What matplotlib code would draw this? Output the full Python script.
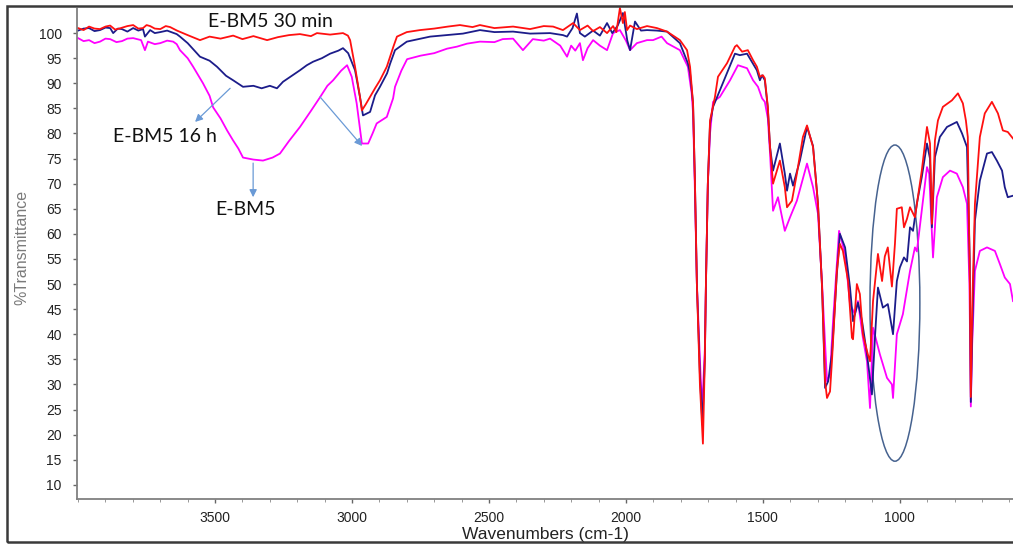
import matplotlib
matplotlib.use("Agg")
import matplotlib.pyplot as plt
import numpy as np
from matplotlib.patches import Ellipse, Rectangle

# FTIR spectra, (wavenumber cm-1, %T) pairs
ebm5_30min = [
    (4000, 101.0), (3980, 100.6), (3960, 101.3), (3940, 100.9), (3920, 100.8),
    (3900, 101.3), (3883, 101.5), (3865, 100.7), (3850, 100.9), (3820, 101.4),
    (3799, 101.6), (3780, 100.9), (3763, 101.0), (3750, 101.6), (3737, 101.4),
    (3720, 100.9), (3700, 100.8), (3680, 101.4), (3664, 101.2),
    (3639, 100.5), (3600, 99.6), (3555, 98.6), (3520, 99.3), (3480, 98.9),
    (3434, 99.5), (3400, 98.8), (3360, 99.4), (3310, 98.6), (3270, 99.2),
    (3230, 99.6), (3190, 99.8), (3150, 99.4), (3128, 100.0), (3080, 99.7),
    (3033, 100.0), (3015, 99.5), (3007, 98.6), (2989, 93.3), (2971, 87.3),
    (2964, 84.6), (2950, 85.8), (2934, 87.3), (2916, 89.0), (2898, 90.6),
    (2873, 93.3), (2849, 97.3), (2836, 99.3), (2800, 100.2), (2752, 100.6),
    (2700, 100.9), (2650, 101.3), (2606, 101.6), (2560, 101.2), (2533, 101.6),
    (2480, 101.0), (2412, 101.3), (2350, 100.8), (2300, 101.4), (2266, 101.3),
    (2230, 100.6), (2193, 102.0), (2168, 100.6), (2140, 101.5), (2120, 100.4),
    (2095, 101.2), (2069, 100.0), (2047, 101.4), (2035, 100.2), (2022, 105.0),
    (2011, 102.0), (2004, 104.2), (1996, 100.6), (1985, 101.5), (1960, 100.8),
    (1923, 101.4), (1887, 101.0), (1850, 100.3), (1803, 98.6), (1777, 96.6),
    (1766, 93.3), (1755, 86.0), (1748, 70.0), (1741, 50.0), (1730, 30.0),
    (1719, 18.2), (1712, 35.0), (1708, 50.0), (1701, 70.0), (1693, 82.6),
    (1675, 87.3), (1664, 91.3), (1631, 94.0), (1602, 97.3), (1595, 97.6),
    (1576, 96.3), (1555, 96.6), (1536, 94.6), (1522, 93.3), (1511, 91.3),
    (1500, 91.6), (1493, 91.0), (1482, 85.3), (1474, 77.3), (1463, 70.0),
    (1438, 74.6), (1420, 69.3), (1412, 65.3), (1394, 66.6), (1376, 72.0),
    (1354, 79.3), (1339, 81.6), (1317, 77.3), (1299, 66.0), (1284, 49.3),
    (1273, 30.6), (1266, 27.3), (1255, 28.6), (1248, 34.6), (1230, 52.6),
    (1219, 58.0), (1208, 56.6), (1189, 50.6), (1175, 39.3), (1171, 39.0),
    (1157, 50.0), (1146, 48.0), (1135, 40.0), (1117, 36.0), (1109, 34.6),
    (1098, 46.6), (1080, 56.0), (1065, 50.6), (1055, 55.5), (1044, 57.3),
    (1029, 49.5), (1018, 58.0), (1011, 65.0), (993, 65.3), (985, 61.3),
    (974, 63.0), (963, 65.3), (945, 63.3), (920, 72.6), (901, 81.3),
    (890, 78.0), (883, 62.0), (872, 78.6), (861, 82.6), (843, 85.3),
    (810, 86.6), (788, 88.0), (770, 86.0), (759, 82.6), (752, 79.3),
    (745, 52.6), (741, 27.5), (736, 45.0), (726, 66.0), (708, 79.3),
    (690, 84.0), (664, 86.3), (642, 84.0), (624, 80.6), (606, 80.3),
    (587, 79.0),
]

ebm5_16h = [
    (4000, 100.5), (3980, 100.9), (3960, 101.0), (3940, 100.4), (3920, 100.6),
    (3900, 101.1), (3883, 101.0), (3872, 100.0), (3855, 100.9),
    (3840, 100.8), (3820, 100.3), (3799, 101.0), (3780, 100.5), (3763, 100.8),
    (3756, 99.3), (3737, 100.6), (3720, 100.0),
    (3700, 100.2), (3675, 100.5), (3640, 99.8), (3628, 99.3), (3600, 98.0),
    (3555, 95.3), (3520, 94.5), (3493, 93.3), (3460, 91.5), (3434, 90.6),
    (3398, 89.3), (3360, 89.5), (3330, 89.0), (3300, 89.5), (3274, 89.0),
    (3252, 90.3), (3220, 91.5), (3190, 92.6), (3165, 93.6), (3142, 94.3),
    (3110, 95.0), (3080, 95.9), (3050, 96.5), (3033, 97.0), (3014, 96.0),
    (2989, 92.6), (2971, 87.3), (2960, 83.6), (2934, 84.3), (2916, 87.6),
    (2898, 89.3), (2872, 92.0), (2861, 93.9), (2843, 96.6), (2800, 98.3),
    (2715, 99.3), (2653, 99.6), (2595, 99.9), (2533, 100.6), (2480, 100.2),
    (2412, 100.3), (2350, 99.9), (2277, 100.0), (2230, 99.6), (2215, 99.3),
    (2195, 101.0), (2179, 103.9), (2168, 100.0), (2150, 99.3), (2120, 100.5),
    (2095, 99.5), (2069, 102.0), (2050, 100.0), (2030, 101.5), (2011, 104.0),
    (1995, 98.5), (1985, 96.6), (1967, 102.3), (1945, 100.5), (1923, 100.6),
    (1887, 100.5), (1850, 100.3), (1803, 98.0), (1774, 94.0), (1766, 92.0),
    (1755, 86.0), (1748, 70.0), (1741, 50.0), (1730, 32.0), (1721, 22.0),
    (1712, 35.0), (1708, 50.0), (1701, 70.0), (1693, 82.0), (1682, 85.3),
    (1657, 88.6), (1631, 92.0), (1602, 95.9), (1584, 95.6), (1558, 95.9),
    (1522, 92.6), (1511, 90.6), (1503, 91.6), (1493, 90.6), (1482, 85.0),
    (1474, 77.3), (1463, 72.6), (1438, 78.0), (1420, 72.0), (1412, 68.6),
    (1401, 72.0), (1390, 69.6), (1365, 74.6), (1339, 81.3), (1317, 77.5),
    (1299, 66.0), (1284, 49.3), (1273, 29.3), (1262, 30.6), (1248, 36.0),
    (1230, 52.0), (1219, 60.0), (1200, 57.3), (1182, 49.3), (1171, 42.6),
    (1153, 46.3), (1138, 42.6), (1120, 36.0), (1102, 28.0), (1091, 39.3),
    (1080, 49.3), (1062, 45.3), (1044, 46.0), (1025, 40.0), (1011, 50.6),
    (1000, 53.3), (985, 55.3), (974, 54.5), (963, 61.3), (952, 60.6),
    (938, 66.0), (920, 71.3), (901, 78.0), (890, 75.0), (883, 61.3),
    (872, 75.3), (854, 79.3), (828, 81.3), (792, 82.3), (773, 80.0),
    (755, 77.3), (745, 55.0), (741, 26.5), (736, 40.0), (726, 62.6),
    (708, 70.6), (682, 76.0), (664, 76.3), (646, 74.6), (627, 72.6),
    (617, 69.3), (606, 67.3), (587, 67.6),
]

ebm5 = [
    (4000, 99.0), (3980, 98.4), (3960, 98.6), (3940, 98.0), (3920, 98.3),
    (3900, 98.9), (3883, 98.8), (3860, 98.2), (3840, 98.4), (3820, 98.9),
    (3799, 99.0), (3770, 98.6), (3756, 96.6), (3745, 98.3), (3720, 97.8),
    (3700, 98.0), (3675, 98.5),
    (3653, 98.3), (3640, 97.8), (3628, 96.6), (3600, 95.0), (3580, 93.3),
    (3544, 90.0), (3520, 87.5), (3507, 85.2), (3480, 83.0), (3456, 80.6),
    (3434, 78.6), (3415, 77.0), (3398, 75.2), (3360, 74.8), (3325, 74.6),
    (3290, 75.2), (3263, 76.0), (3230, 78.5), (3190, 81.3), (3150, 84.5),
    (3117, 87.2), (3090, 89.5), (3069, 90.6), (3040, 92.5), (3018, 93.6),
    (3001, 91.3), (2983, 86.0), (2964, 78.0), (2941, 78.0), (2925, 80.0),
    (2910, 82.0), (2873, 83.3), (2850, 87.0), (2843, 89.3), (2820, 92.5),
    (2799, 94.8), (2750, 95.5), (2700, 96.0), (2653, 96.9), (2617, 97.3),
    (2580, 97.9), (2533, 98.3), (2480, 98.2), (2450, 98.8), (2412, 98.9),
    (2376, 96.6), (2340, 98.8), (2300, 98.5), (2277, 98.9), (2240, 97.5),
    (2215, 95.3), (2200, 97.5), (2185, 96.5), (2168, 98.0), (2157, 94.6),
    (2140, 97.0), (2120, 98.6), (2095, 97.5), (2069, 96.6), (2047, 100.0),
    (2022, 100.6), (2000, 98.5), (1985, 96.6), (1960, 98.0), (1923, 98.6),
    (1901, 98.6), (1870, 99.3), (1850, 98.0), (1803, 96.6), (1774, 93.3),
    (1760, 88.0), (1755, 84.0), (1748, 68.0), (1741, 50.0), (1730, 35.0),
    (1722, 25.0), (1712, 37.0), (1708, 50.0), (1701, 70.0), (1693, 80.0),
    (1682, 86.3), (1657, 87.3), (1620, 90.6), (1591, 93.6), (1558, 93.0),
    (1536, 90.6), (1518, 89.3), (1503, 87.0), (1493, 86.3), (1482, 83.0),
    (1474, 76.0), (1463, 64.6), (1445, 67.3), (1420, 60.6), (1401, 63.3),
    (1376, 66.6), (1339, 74.0), (1317, 69.3), (1299, 64.0), (1284, 50.0),
    (1266, 30.6), (1255, 32.0), (1244, 42.6), (1222, 60.6), (1200, 56.0),
    (1182, 46.0), (1164, 44.0), (1153, 46.6), (1135, 39.3), (1120, 34.6),
    (1109, 25.3), (1098, 41.3), (1073, 36.0), (1047, 31.3), (1029, 30.0),
    (1025, 27.3), (1011, 40.0), (989, 44.0), (963, 52.6), (945, 57.3),
    (938, 56.5), (920, 64.6), (901, 73.3), (893, 72.0), (879, 55.3),
    (865, 67.3), (843, 71.3), (817, 72.6), (792, 72.0), (770, 69.3),
    (755, 66.0), (746, 50.0), (741, 25.6), (736, 38.0), (726, 52.6),
    (708, 56.6), (682, 57.3), (653, 56.6), (635, 54.0), (617, 51.3),
    (598, 50.0), (587, 46.6),
]

series = [
    (ebm5, "#ff00ff"),
    (ebm5_16h, "#1c1c8a"),
    (ebm5_30min, "#ff1010"),
]

# text label, text position, arrow start, arrow end
labels = [
    ("E-BM5 30 min", (3299, 102.4), None, None),
    ("E-BM5 16 h", (3682, 79.3), (3445, 89.0), (3573, 82.3)),
    ("E-BM5", (3390, 64.9), (3361, 74.1), (3361, 67.3)),
    (None, None, (3117, 87.3), (2963, 77.5)),
]

W, H = 1013, 544
fig = plt.figure(figsize=(W / 100, H / 100), dpi=100)
ax = fig.add_axes([77 / W, 1 - 499 / H, (1013 - 77) / W, (499 - 7) / H])

for data, color in series:
    arr = np.array(data)
    ax.plot(arr[:, 0], arr[:, 1], color=color, lw=1.3)

ax.set_xlim(4004, 587)
ax.set_ylim(7.17, 105.2)
ax.set_xticks([3500, 3000, 2500, 2000, 1500, 1000])
ax.set_xticks(np.arange(600, 4001, 100), minor=True)
ax.set_yticks(np.arange(10, 101, 5))

ax.tick_params(axis="both", which="major", labelsize=10, labelcolor="#222222",
               color="#666666", length=3, width=1)
ax.tick_params(axis="x", which="minor", length=2, color="#888888")
ax.tick_params(axis="y", pad=8)
ax.tick_params(axis="x", pad=6)
for lab in ax.get_xticklabels() + ax.get_yticklabels():
    lab.set_fontfamily("Liberation Sans")

ax.spines["top"].set_visible(False)
ax.spines["right"].set_visible(False)
for side in ["left", "bottom"]:
    ax.spines[side].set_color("#808080")
    ax.spines[side].set_linestyle((0, (1.5, 1)))
    ax.spines[side].set_linewidth(1.3)

ax.set_xlabel("Wavenumbers (cm-1)", fontsize=12.5, family="Liberation Sans",
              color="#222222", labelpad=1)
fig.text(22 / W, 1 - 247 / H, "%Transmittance", rotation=90, fontsize=11.5,
         family="Liberation Sans", color="#7a7a7a", ha="center", va="center")

ellipse = Ellipse((1018, 46.2), 182, 63, fill=False, edgecolor="#46628f", lw=1.1)
ax.add_patch(ellipse)

for text, pos, start, end in labels:
    if text is not None:
        ax.text(pos[0], pos[1], text, fontsize=14, family="Lato",
                color="#111111", ha="center", va="center")
    if start is not None:
        ax.annotate("", xy=end, xytext=start,
                    arrowprops=dict(arrowstyle="-|>", color="#6a9ad6", lw=0.9,
                                    mutation_scale=11, shrinkA=0, shrinkB=0))

# frame around the whole figure
fig.patches.append(Rectangle((7 / W, 1 - 542 / H), 1.05, (542 - 6) / H,
                             transform=fig.transFigure, fill=False,
                             edgecolor="#3a3a3a", lw=1.8))

fig.savefig("out.png", dpi=100)
